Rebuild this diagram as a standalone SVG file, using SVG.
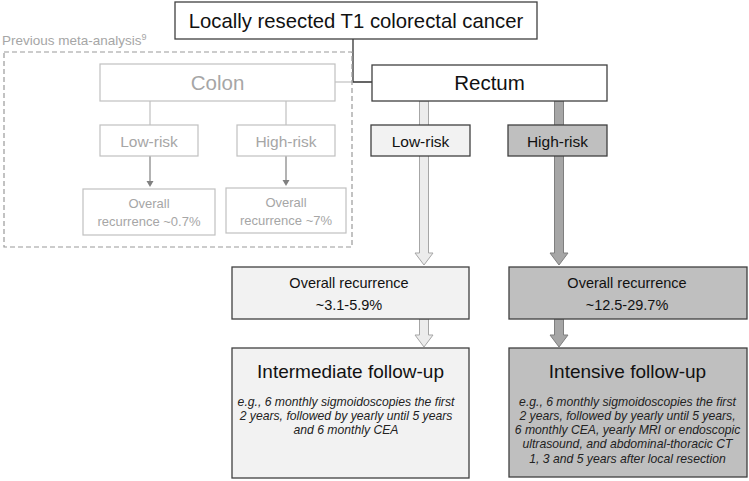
<svg xmlns="http://www.w3.org/2000/svg" width="749" height="481" viewBox="0 0 749 481">
<style>
text{font-family:"Liberation Sans",Arial,sans-serif;text-anchor:middle}
.box{stroke:#404040;stroke-width:1.3}
.gbox{fill:#fff;stroke:#c0c0c0;stroke-width:1.2}
.gt{fill:#a6a6a6}
.t{fill:#111}
.it{font-style:italic;font-size:12.2px;fill:#222}
.white{fill:#fff}
.light{fill:#f2f2f2}
.dark{fill:#bfbfbf}
</style>
<rect width="749" height="481" fill="#fff"/>
<g id="connectors">
<polyline points="353,39 353,82 372,82" fill="none" stroke="#333" stroke-width="1.3"/>
<line x1="335" y1="82" x2="353" y2="82" stroke="#c0c0c0" stroke-width="1.2"/>
<line x1="150" y1="101" x2="150" y2="125" stroke="#c0c0c0" stroke-width="1.2"/>
<line x1="286" y1="101" x2="286" y2="125" stroke="#c0c0c0" stroke-width="1.2"/>
<line x1="150" y1="156" x2="150" y2="182" stroke="#808080" stroke-width="1.2"/>
<polygon points="146.5,181 153.5,181 150,187" fill="#808080"/>
<line x1="286" y1="156" x2="286" y2="181" stroke="#808080" stroke-width="1.2"/>
<polygon points="282.5,180 289.5,180 286,186" fill="#808080"/>
<path d="M419.5,101 V253 H415 L424,265 L433,253 H428.5 V101 Z" fill="#ececec" stroke="#a6a6a6" stroke-width="1"/>
<path d="M419.5,319 V335 H415 L424,347 L433,335 H428.5 V319 Z" fill="#ececec" stroke="#a6a6a6" stroke-width="1"/>
<path d="M554.5,101 V253 H550 L559,265 L568,253 H563.5 V101 Z" fill="#a6a6a6" stroke="#7f7f7f" stroke-width="1"/>
<path d="M554.5,319 V335 H550 L559,347 L568,335 H563.5 V319 Z" fill="#a6a6a6" stroke="#7f7f7f" stroke-width="1"/>
</g>
<g id="previous">
<rect x="4" y="52" width="348" height="195" fill="none" stroke="#9a9a9a" stroke-width="1.2" stroke-dasharray="5,3"/>
<text x="2" y="45" class="gt" style="text-anchor:start;font-size:13.5px">Previous meta-analysis<tspan dy="-5" font-size="9">9</tspan></text>
</g>
<g id="top">
<rect class="box white" x="175" y="2" width="362" height="37"/>
<text class="t" x="356" y="28" font-size="20.3">Locally resected T1 colorectal cancer</text>
</g>
<g id="colon">
<rect class="gbox" x="100" y="64" width="235" height="37"/>
<text class="gt" x="217.5" y="90" font-size="20.5">Colon</text>
</g>
<g id="colon-low">
<rect class="gbox" x="100" y="125" width="98" height="31"/>
<text class="gt" x="149" y="147" font-size="15.5">Low-risk</text>
</g>
<g id="colon-high">
<rect class="gbox" x="237" y="125" width="98" height="31"/>
<text class="gt" x="286" y="147" font-size="15.5">High-risk</text>
</g>
<g id="colon-low-rec">
<rect class="gbox" x="83" y="189" width="132" height="46"/>
<text class="gt" x="149" y="208" font-size="13">Overall</text>
<text class="gt" x="149" y="226" font-size="13">recurrence ~0.7%</text>
</g>
<g id="colon-high-rec">
<rect class="gbox" x="226" y="188" width="120" height="45"/>
<text class="gt" x="286" y="207" font-size="13">Overall</text>
<text class="gt" x="286" y="225" font-size="13">recurrence ~7%</text>
</g>
<g id="rectum">
<rect class="box white" x="372" y="65" width="235" height="36"/>
<text class="t" x="489.5" y="90" font-size="20.5">Rectum</text>
</g>
<g id="rectum-low">
<rect class="box light" x="371" y="125" width="99" height="31"/>
<text class="t" x="420.5" y="147" font-size="15.5">Low-risk</text>
</g>
<g id="rectum-high">
<rect class="box dark" x="508" y="125" width="99" height="31"/>
<text class="t" x="557.5" y="147" font-size="15.5">High-risk</text>
</g>
<g id="low-rec">
<rect class="box light" x="232" y="267" width="237" height="52"/>
<text class="t" x="349" y="288" font-size="14.5">Overall recurrence</text>
<text class="t" x="349" y="310" font-size="14.5">~3.1-5.9%</text>
</g>
<g id="high-rec">
<rect class="box dark" x="509" y="267" width="238" height="52"/>
<text class="t" x="627" y="288" font-size="14.5">Overall recurrence</text>
<text class="t" x="627" y="310" font-size="14.5">~12.5-29.7%</text>
</g>
<g id="low-follow">
<rect class="box light" x="232" y="348" width="237" height="130"/>
<text class="t" x="350.5" y="378" font-size="19">Intermediate follow-up</text>
<text class="it" x="346" y="406">e.g., 6 monthly sigmoidoscopies the first</text>
<text class="it" x="346" y="420">2 years, followed by yearly until 5 years</text>
<text class="it" x="346" y="434">and 6 monthly CEA</text>
</g>
<g id="high-follow">
<rect class="box dark" x="509" y="348" width="238" height="129"/>
<text class="t" x="627.5" y="378" font-size="19">Intensive follow-up</text>
<text class="it" x="627.5" y="406">e.g., 6 monthly sigmoidoscopies the first</text>
<text class="it" x="627.5" y="420">2 years, followed by yearly until 5 years,</text>
<text class="it" x="627.5" y="434">6 monthly CEA, yearly MRI or endoscopic</text>
<text class="it" x="627.5" y="448">ultrasound, and abdominal-thoracic CT</text>
<text class="it" x="627.5" y="463">1, 3 and 5 years after local resection</text>
</g>
</svg>
